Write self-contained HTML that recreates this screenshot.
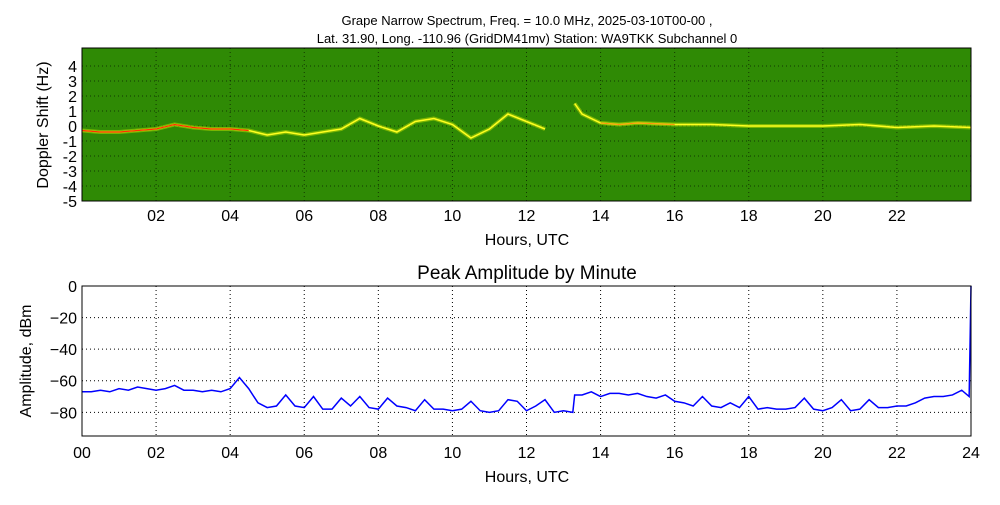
<!DOCTYPE html>
<html><head><meta charset="utf-8"><style>
body{margin:0;background:#fff;width:1000px;height:500px;overflow:hidden}
svg text{font-family:"Liberation Sans",sans-serif;fill:#000}
</style></head><body>
<svg id="c" width="1000" height="500">
<text x="527" y="25" font-size="13" text-anchor="middle">Grape Narrow Spectrum, Freq. = 10.0 MHz, 2025-03-10T00-00 ,</text>
<text x="527" y="43" font-size="13" text-anchor="middle">Lat.  31.90, Long. -110.96 (GridDM41mv) Station: WA9TKK Subchannel 0</text>
<rect x="82" y="48" width="889" height="153" fill="#2f8a05"/>
<g id="top"></g>
<rect x="82" y="48" width="889" height="153" fill="none" stroke="#000"/>
<text transform="translate(48,125) rotate(-90)" font-size="16" text-anchor="middle">Doppler Shift (Hz)</text>
<text x="527" y="245" font-size="16" text-anchor="middle">Hours, UTC</text>
<text x="527" y="279" font-size="19" text-anchor="middle">Peak Amplitude by Minute</text>
<g id="bot"></g>
<rect x="82" y="286" width="889" height="150" fill="none" stroke="#000"/>
<text transform="translate(31,361) rotate(-90)" font-size="16" text-anchor="middle">Amplitude, dBm</text>
<text x="527" y="482" font-size="16" text-anchor="middle">Hours, UTC</text>
</svg>
<script>
const dopHours=[0,0.5,1,1.5,2,2.5,3,3.5,4,4.5,5,5.5,6,6.5,7,7.5,8,8.5,9,9.5,10,10.5,11,11.5,12,12.5,null,13.3,13.5,14,14.5,15,16,17,18,19,20,21,22,23,24];
const dopVals=[-0.3,-0.4,-0.4,-0.3,-0.2,0.1,-0.1,-0.2,-0.2,-0.3,-0.6,-0.4,-0.6,-0.4,-0.2,0.5,0.0,-0.4,0.3,0.5,0.1,-0.8,-0.2,0.8,0.3,-0.2,null,1.5,0.8,0.2,0.1,0.2,0.1,0.1,0.0,0.0,0.0,0.1,-0.1,0.0,-0.1];
const topTicks=["02","04","06","08","10","12","14","16","18","20","22"];
const dopTicks=[-5,-4,-3,-2,-1,0,1,2,3,4];
const ampHours=[0,0.25,0.5,0.75,1,1.25,1.5,1.75,2,2.25,2.5,2.75,3,3.25,3.5,3.75,4,4.25,4.5,4.75,5,5.25,5.5,5.75,6,6.25,6.5,6.75,7,7.25,7.5,7.75,8,8.25,8.5,8.75,9,9.25,9.5,9.75,10,10.25,10.5,10.75,11,11.25,11.5,11.75,12,12.25,12.5,12.75,13,13.25,13.3,13.5,13.75,14,14.25,14.5,14.75,15,15.25,15.5,15.75,16,16.25,16.5,16.75,17,17.25,17.5,17.75,18,18.25,18.5,18.75,19,19.25,19.5,19.75,20,20.25,20.5,20.75,21,21.25,21.5,21.75,22,22.25,22.5,22.75,23,23.25,23.5,23.75,23.95,24];
const ampVals=[-67,-67,-66,-67,-65,-66,-64,-65,-66,-65,-63,-66,-66,-67,-66,-67,-65,-58,-65,-74,-77,-76,-69,-76,-77,-70,-78,-78,-71,-76,-70,-77,-78,-71,-76,-77,-79,-72,-78,-78,-79,-78,-73,-79,-80,-79,-72,-73,-79,-76,-72,-80,-79,-80,-69,-69,-67,-70,-68,-68,-69,-68,-70,-71,-69,-73,-74,-76,-70,-76,-77,-74,-77,-70,-78,-77,-78,-78,-77,-71,-78,-79,-77,-72,-79,-78,-72,-77,-77,-76,-76,-74,-71,-70,-70,-69,-66,-70,0];
const botTicks=["00","02","04","06","08","10","12","14","16","18","20","22","24"];
const ampTicks=[0,-20,-40,-60,-80];
const NS="http://www.w3.org/2000/svg";
const X=h=>82+h*889/24;
const YT=v=>201-(v+5)*153/10.2;
const YB=v=>286-v*150/95;
function mk(p,t,a){const e=document.createElementNS(NS,t);for(const k in a)e.setAttribute(k,a[k]);p.appendChild(e);return e;}
const gTop=document.getElementById('top'),gBot=document.getElementById('bot');
dopTicks.forEach(v=>{
 const l=mk(gTop,'line',{x1:82,x2:971,y1:YT(v),y2:YT(v),stroke:'#000','stroke-dasharray':'1,3','stroke-opacity':0.6});
 
 
 const t=mk(gTop,'text',{x:77,y:YT(v)+6,'font-size':16,'text-anchor':'end'});t.textContent=v;
 
 
});
topTicks.forEach(s=>{
 const x=X(+s);
 const l=mk(gTop,'line',{x1:x,x2:x,y1:48,y2:201,stroke:'#000','stroke-dasharray':'1,3','stroke-opacity':0.6});
 
 
 const t=mk(gTop,'text',{x:x,y:221,'font-size':16,'text-anchor':'middle'});t.textContent=s;
 
 
});
let segs=[[]];
dopHours.forEach((h,i)=>{if(h===null){segs.push([]);}else segs[segs.length-1].push(X(h)+','+YT(dopVals[i]));});
segs.forEach(s=>{
 const g=mk(gTop,'polyline',{points:s.join(' '),fill:'none',stroke:'#d8e800','stroke-width':4,'stroke-opacity':0.45,'stroke-linejoin':'round'});
 
 
 const p=mk(gTop,'polyline',{points:s.join(' '),fill:'none',stroke:'#ffff20','stroke-width':1.5});
 
 
});
const red=[];dopHours.forEach((h,i)=>{if(h!==null&&h<=4.5)red.push(X(h)+','+YT(dopVals[i]));});
const r=mk(gTop,'polyline',{points:red.join(' '),fill:'none',stroke:'#ff3000','stroke-width':1.2});


const red2=[];dopHours.forEach((h,i)=>{if(h!==null&&h>=14&&h<=16)red2.push(X(h)+','+YT(dopVals[i]));});
const r2=mk(gTop,'polyline',{points:red2.join(' '),fill:'none',stroke:'#ff6000','stroke-width':1,'stroke-opacity':0.7});


ampTicks.forEach(v=>{
 const l=mk(gBot,'line',{x1:82,x2:971,y1:YB(v),y2:YB(v),stroke:'#000','stroke-dasharray':'1,3'});
 
 
 const t=mk(gBot,'text',{x:77,y:YB(v)+6,'font-size':16,'text-anchor':'end'});t.textContent=v===0?'0':'\u2212'+(-v);
 
 
});
botTicks.forEach(s=>{
 const x=X(+s);
 const l=mk(gBot,'line',{x1:x,x2:x,y1:286,y2:436,stroke:'#000','stroke-dasharray':'1,3'});
 
 
 const t=mk(gBot,'text',{x:x,y:458,'font-size':16,'text-anchor':'middle'});t.textContent=s;
 
 
});
const pts=ampHours.map((h,i)=>X(h)+','+YB(ampVals[i])).join(' ');
const a=mk(gBot,'polyline',{points:pts,fill:'none',stroke:'#0000ff','stroke-width':1.5});


</script>
</body></html>
